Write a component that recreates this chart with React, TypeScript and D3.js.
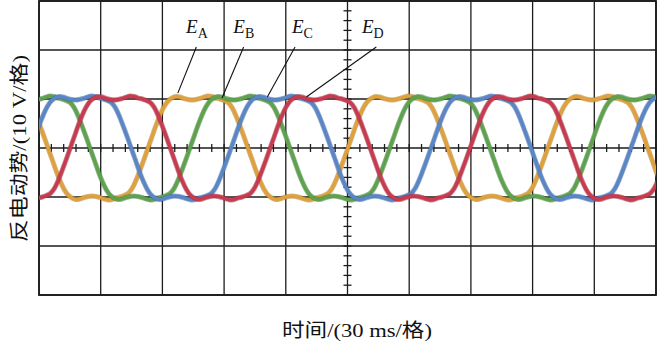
import React from "react";
import * as d3 from "d3";

const W = 657;
const H = 345;

// axis ranges (oscilloscope: 10 divisions x 30 ms, 6 divisions x 10 V)
const timeRangeMs = [0, 300];
const voltRange = [-30, 30];
const timeDivMs = 30;
const voltDiv = 10;

// electrical period and rising zero-crossing time of each trace (ms)
const periodMs = 97.2;
const phaseNames = ["A", "B", "C", "D"];
const phaseRiseMs = [53.0, 73.4, 93.4, 112.4];
const phaseColors = ["#dea13e", "#5fa24e", "#5a86c6", "#c83a4e"];
const phaseEdge = ["#b07a22", "#3d7a34", "#3a62a0", "#98243a"];

// positive half of the back-EMF shape (fraction of period, volts)
const shapeFrac = [0, 0.02, 0.04, 0.06, 0.08, 0.1, 0.12, 0.14, 0.16, 0.18, 0.2, 0.22, 0.24, 0.26, 0.28, 0.3, 0.32, 0.34, 0.36, 0.38, 0.4, 0.42, 0.44, 0.46, 0.48];
const shapeVolt = [0, 2.3, 4.6, 6.7, 8.4, 9.6, 10.2, 10.5, 10.4, 10.1, 9.9, 9.8, 9.9, 10.1, 10.4, 10.6, 10.5, 10.2, 10.0, 9.7, 9.3, 8.3, 6.6, 4.5, 2.3];

// label positions (ms, V) and leader-line target points (ms, V)
const labelAt: [number, number][] = [[71.5, 23.4], [94.5, 23.4], [123, 23.4], [157, 23.4]];
const leaderFrom: [number, number][] = [[76.5, 20.6], [99.5, 20.6], [124.5, 20.6], [164, 20.6]];
const leaderTo: [number, number][] = [[67.5, 11.2], [89, 10.2], [111, 10.4], [130, 10.4]];

const xLabel = "时间/(30 ms/格)";
const yLabel = "反电动势/(10 V/格)";

const L = 39, R = 656, T = 1, B = 295;

export default function App() {
  const x = d3.scaleLinear().domain(timeRangeMs).range([L, R]);
  const y = d3.scaleLinear().domain(voltRange).range([B, T]);

  const xGrid = d3.range(timeRangeMs[0], timeRangeMs[1] + 0.001, timeDivMs);
  const yGrid = d3.range(voltRange[0], voltRange[1] + 0.001, voltDiv);
  const xMinor = d3.range(timeRangeMs[0], timeRangeMs[1] + 0.001, timeDivMs / 5);
  const yMinor = d3.range(voltRange[0], voltRange[1] + 0.001, voltDiv / 5);

  const line = d3
    .line<[number, number]>()
    .x((d) => x(d[0]))
    .y((d) => y(d[1]))
    .curve(d3.curveCatmullRom.alpha(0.5));

  const series = phaseRiseMs.map((rise) => {
    const pts: [number, number][] = [];
    const kStart = Math.floor((timeRangeMs[0] - rise) / periodMs) - 1;
    const kEnd = Math.ceil((timeRangeMs[1] - rise) / periodMs) + 1;
    for (let k = kStart; k <= kEnd; k++) {
      const base = rise + k * periodMs;
      shapeFrac.forEach((f, i) => pts.push([base + f * periodMs, shapeVolt[i]]));
      shapeFrac.forEach((f, i) => pts.push([base + (f + 0.5) * periodMs, -shapeVolt[i]]));
    }
    return pts;
  });

  const cx = x((timeRangeMs[0] + timeRangeMs[1]) / 2);
  const cy = y(0);
  const serif = "'Liberation Serif', 'Times New Roman', serif";
  const labelFont = "'Liberation Serif', 'Noto Sans CJK SC', serif";

  return (
    <svg width={W} height={H} style={{ position: "absolute", left: 0, top: 0, background: "#fff" }}>
      <defs>
        <clipPath id="plot">
          <rect x={L} y={T} width={R - L} height={B - T} />
        </clipPath>
      </defs>
      <rect x={0} y={0} width={W} height={H} fill="#fff" />
      {/* grid */}
      {xGrid.map((t) => (
        <line key={"gx" + t} x1={x(t)} x2={x(t)} y1={T} y2={B} stroke="#1c1c1c" strokeWidth={1.3} />
      ))}
      {yGrid.map((v) => (
        <line key={"gy" + v} x1={L} x2={R} y1={y(v)} y2={y(v)} stroke="#1c1c1c" strokeWidth={1.3} />
      ))}
      {/* center ticks */}
      {yMinor.map((v) => (
        <line key={"ty" + v} x1={cx - 4} x2={cx + 4} y1={y(v)} y2={y(v)} stroke="#1c1c1c" strokeWidth={1.3} />
      ))}
      {xMinor.map((t) => (
        <line key={"tx" + t} x1={x(t)} x2={x(t)} y1={cy - 4} y2={cy + 4} stroke="#1c1c1c" strokeWidth={1.3} />
      ))}
      <rect x={L} y={T} width={R - L} height={B - T} fill="none" stroke="#1c1c1c" strokeWidth={1.8} />
      {/* traces */}
      <g clipPath="url(#plot)">
        {series.map((pts, i) => (
          <g key={"s" + i}>
            <path d={line(pts) || ""} fill="none" stroke={phaseEdge[i]} strokeWidth={5} strokeOpacity={0.55} strokeLinejoin="round" />
            <path d={line(pts) || ""} fill="none" stroke={phaseColors[i]} strokeWidth={3.4} strokeLinejoin="round" />
          </g>
        ))}
      </g>
      {/* labels */}
      {phaseNames.map((n, i) => (
        <g key={"lab" + n}>
          <line
            x1={x(leaderFrom[i][0])}
            y1={y(leaderFrom[i][1])}
            x2={x(leaderTo[i][0])}
            y2={y(leaderTo[i][1])}
            stroke="#111"
            strokeWidth={1.1}
          />
          <text x={x(labelAt[i][0])} y={y(labelAt[i][1])} fontFamily={serif} fontSize={19} fill="#111">
            <tspan fontStyle="italic">E</tspan>
            <tspan fontSize={14} dy={5}>{n}</tspan>
          </text>
        </g>
      ))}
      <text x={282} y={337} textLength={150} lengthAdjust="spacingAndGlyphs" fontFamily={labelFont} fontSize={19.5} fill="#111">
        {xLabel}
      </text>
      <text transform={`translate(26,242) rotate(-90)`} textLength={187} lengthAdjust="spacingAndGlyphs" fontFamily={labelFont} fontSize={19.5} fill="#111">
        {yLabel}
      </text>
    </svg>
  );
}
